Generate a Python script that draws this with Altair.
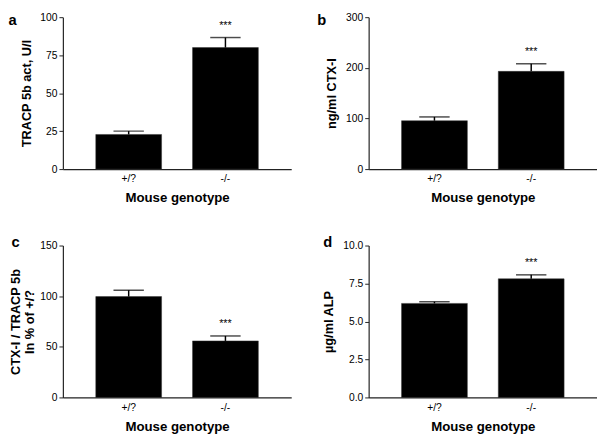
import altair as alt
import pandas as pd

genotypes = ["+/?", "-/-"]
sig = ["", "***"]

a_vals = [22.8, 80.0]
a_upper = [25.0, 86.6]
b_vals = [95.5, 193.0]
b_upper = [103.0, 208.0]
c_vals = [99.6, 55.8]
c_upper = [105.9, 60.7]
d_vals = [6.19, 7.81]
d_upper = [6.3, 8.07]

FONT = "Liberation Sans"


def panel(letter, vals, upper, ytitle, ymax, ticks, fmt, title_pad=7, letter_dx=0, letter_off=-14):
    df = pd.DataFrame({"genotype": genotypes, "value": vals, "upper": upper, "sig": sig})
    base = alt.Chart(df)
    x = alt.X(
        "genotype:N",
        sort=genotypes,
        scale=alt.Scale(paddingInner=0.32, paddingOuter=0.34),
        axis=alt.Axis(
            title="Mouse genotype",
            labelAngle=0,
            ticks=False,
            labelPadding=5,
            titlePadding=7,
            domainColor="#222",
            domainWidth=1.2,
            labelFontSize=10.5,
            labelColor="black",
            titleFontSize=13.5,
            titleFontWeight="bold",
            titleColor="black",
        ),
    )
    yscale = alt.Scale(domain=[0, ymax], nice=False)
    yaxis = alt.Axis(
        title=ytitle,
        values=ticks,
        format=fmt,
        grid=False,
        tickSize=4,
        tickColor="#222",
        domainColor="#222",
        domainWidth=1.2,
        labelPadding=2,
        labelFontSize=10.5,
        labelColor="black",
        labelOverlap=False,
        titleFontSize=13,
        titleFontWeight="bold",
        titleColor="black",
        titlePadding=title_pad,
    )
    bars = base.mark_bar(color="black", stroke="#333", strokeWidth=0.5).encode(
        x=x, y=alt.Y("value:Q", scale=yscale, axis=yaxis)
    )
    rule = base.mark_rule(color="black", strokeWidth=1.5).encode(
        x=x, y=alt.Y("value:Q", scale=yscale, axis=yaxis), y2="upper:Q"
    )
    cap = base.mark_tick(color="black", orient="horizontal", size=31, thickness=1.5).encode(
        x=x, y=alt.Y("upper:Q", scale=yscale, axis=yaxis)
    )
    stars = base.mark_text(color="black", fontSize=11, baseline="middle", dy=-12).encode(
        x=x, y=alt.Y("upper:Q", scale=yscale, axis=yaxis), text="sig:N"
    )
    return alt.layer(bars, rule, cap, stars).properties(
        width=233,
        height=155,
        title=alt.TitleParams(
            letter,
            anchor="start",
            frame="bounds",
            fontSize=15,
            fontWeight="bold",
            color="black",
            offset=letter_off,
            dx=letter_dx,
        ),
    )


pa = panel("a", a_vals, a_upper, "TRACP 5b act, U/l", 100, [0, 25, 50, 75, 100], "d",
           letter_dx=-12, letter_off=-16)
pb = panel("b", b_vals, b_upper, "ng/ml CTX-I", 300, [0, 100, 200, 300], "d",
           letter_dx=-9, letter_off=-16)
pc = panel("c", c_vals, c_upper, ["CTX-I / TRACP 5b", "In % of +/?"], 150, [0, 50, 100, 150], "d",
           title_pad=3, letter_dx=2, letter_off=-10)
pd_ = panel("d", d_vals, d_upper, "µg/ml ALP", 10, [0, 2.5, 5, 7.5, 10], ".1f", letter_off=-10)

chart = alt.concat(pa, pb, pc, pd_, columns=2, spacing={"row": 78, "column": 79}, bounds="flush").properties(
    padding={"left": 0, "top": 0, "right": 0, "bottom": 0}
).configure(font=FONT).configure_view(stroke=None)

chart.save("out.html", embed_options={"renderer": "svg", "actions": False})
